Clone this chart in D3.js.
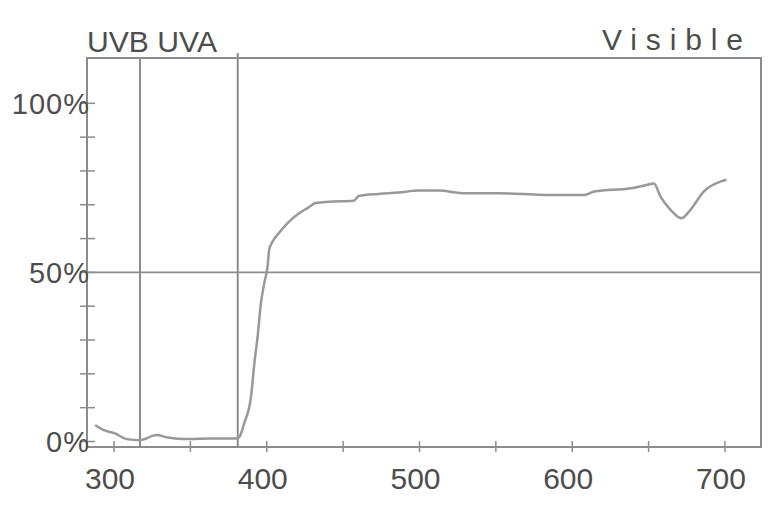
<!DOCTYPE html>
<html>
<head>
<meta charset="utf-8">
<script src="https://cdn.jsdelivr.net/npm/d3@7"></script>
<style>
  body { margin: 0; background: #fff; }
  text { font-family: "Liberation Sans", Arial, sans-serif; fill: #4d4d4d; }
</style>
</head>
<body>
<div id="spectrum"></div>
<script>
// transmission curve (wavelength nm, percent)
const wavelengths = [287.6, 293, 300.7, 308.3, 316.9, 327.8, 335, 347.4, 362.5, 379.9,
    382.1, 385.3, 389.7, 391.9, 394.0, 396.2, 398.4, 400.5, 401.6, 403.8,
    407.0, 413.6, 421.2, 426.6, 432.0, 440.7, 457.0, 460.3, 473.3, 486.3,
    499.3, 512.4, 529.8, 551.5, 584.0, 607.9, 614.5, 638.3, 649.2, 653.5,
    657.8, 664.4, 671.5, 677.4, 686.1, 698.0, 701];
const transmission = [4.9, 3.4, 2.4, 0.7, 0.4, 1.9, 1.2, 0.7, 0.9, 0.9,
    1.4, 5.5, 13.3, 23.2, 31.0, 41.0, 46.9, 51.7, 56.7, 59.1,
    61.1, 64.6, 67.5, 69.0, 70.5, 70.9, 71.2, 72.6, 73.2, 73.6,
    74.2, 74.2, 73.4, 73.4, 72.9, 72.9, 73.9, 74.9, 75.9, 76.3,
    72.4, 68.5, 66.0, 68.5, 73.9, 77.0, 77.4];

const xTicks = [300, 350, 400, 450, 500, 550, 600, 650, 700];
const xTickLabels = [300, 400, 500, 600, 700];
const yTicks = [0, 10, 20, 30, 40, 50, 60, 70, 80, 90, 100];
const yTickLabels = [0, 50, 100];
const bandEdges = [317, 381];   // UVB|UVA and UVA|Visible
const midLine = 50;

const width = 777, height = 506;
const box = { left: 87, right: 761, top: 58, bottom: 447 };

var x = d3.scaleLinear()
    .domain([282.3, 723.6])
    .range([box.left, box.right]);

var y = d3.scaleLinear()
    .domain([-1.63, 113.4])
    .range([box.bottom, box.top]);

var svg = d3.select('#spectrum')
    .append('svg')
    .attr('width', width)
    .attr('height', height);

var lineColor = '#8c8c8c';

// frame
svg.append('rect')
    .attr('x', box.left)
    .attr('y', box.top)
    .attr('width', box.right - box.left)
    .attr('height', box.bottom - box.top)
    .attr('fill', 'none')
    .attr('stroke', lineColor)
    .attr('stroke-width', 2);

// 50% line
svg.append('line')
    .attr('x1', box.left).attr('x2', box.right)
    .attr('y1', y(midLine)).attr('y2', y(midLine))
    .attr('stroke', lineColor)
    .attr('stroke-width', 1.6);

// band boundaries
svg.selectAll('.band')
    .data(bandEdges)
    .enter()
    .append('line')
    .attr('class', 'band')
    .attr('x1', d => x(d)).attr('x2', d => x(d))
    .attr('y1', (d, i) => i === 1 ? box.top - 5 : box.top)
    .attr('y2', box.bottom)
    .attr('stroke', lineColor)
    .attr('stroke-width', 2);

// y ticks
svg.selectAll('.ytick')
    .data(yTicks)
    .enter()
    .append('line')
    .attr('class', 'ytick')
    .attr('x1', box.left - 7).attr('x2', box.left + 8)
    .attr('y1', d => y(d)).attr('y2', d => y(d))
    .attr('stroke', lineColor)
    .attr('stroke-width', 1.5);

// x ticks
svg.selectAll('.xtick')
    .data(xTicks)
    .enter()
    .append('line')
    .attr('class', 'xtick')
    .attr('x1', d => x(d)).attr('x2', d => x(d))
    .attr('y1', box.bottom - 6).attr('y2', box.bottom + 5)
    .attr('stroke', lineColor)
    .attr('stroke-width', 1.5);

// y labels
svg.selectAll('.ylabel')
    .data(yTickLabels)
    .enter()
    .append('text')
    .attr('class', 'ylabel')
    .attr('x', box.left + 3)
    .attr('y', d => y(d))
    .attr('dy', '0.36em')
    .attr('text-anchor', 'end')
    .style('font-size', '29px')
    .style('letter-spacing', '1px')
    .text(d => d + '%');

// x labels
svg.selectAll('.xlabel')
    .data(xTickLabels)
    .enter()
    .append('text')
    .attr('class', 'xlabel')
    .attr('x', d => x(d) - 4)
    .attr('y', 489)
    .attr('text-anchor', 'middle')
    .style('font-size', '30px')
    .text(d => d);

// band names
svg.append('text')
    .attr('x', box.left)
    .attr('y', 52)
    .style('font-size', '30px')
    .attr('textLength', 130)
    .attr('lengthAdjust', 'spacingAndGlyphs')
    .text('UVB UVA');

svg.append('text')
    .attr('x', 602)
    .attr('y', 50)
    .style('font-size', '30px')
    .attr('textLength', 141)
    .attr('lengthAdjust', 'spacing')
    .text('Visible');

// curve
var points = wavelengths.map((w, i) => [w, transmission[i]]);

var line = d3.line()
    .x(d => x(d[0]))
    .y(d => y(d[1]))
    .curve(d3.curveMonotoneX);

svg.append('path')
    .datum(points)
    .attr('d', line)
    .attr('fill', 'none')
    .attr('stroke', '#999')
    .attr('stroke-width', 2.5);
</script>
</body>
</html>
